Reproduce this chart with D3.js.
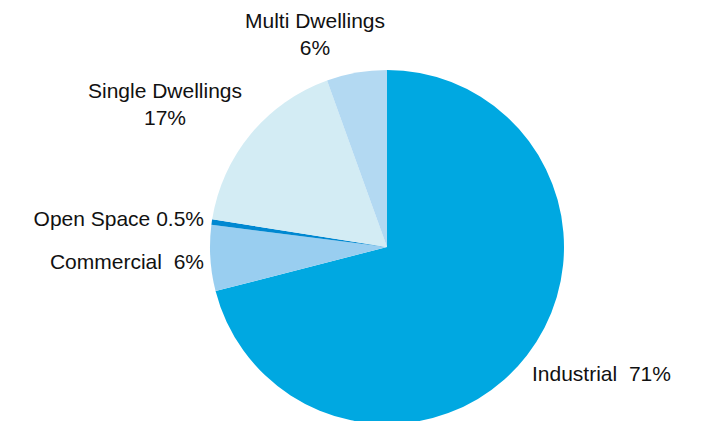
<!DOCTYPE html>
<html>
<head>
<meta charset="utf-8">
<script src="https://cdn.jsdelivr.net/npm/d3@7"></script>
<style>
  body { margin: 0; background: #fff; }
  text { font-family: "Liberation Sans", Arial, sans-serif; fill: #111; }
</style>
</head>
<body>
<svg id="chart"></svg>
<script>
'use strict'

var categories = ["Industrial", "Commercial", "Open Space", "Single Dwellings", "Multi Dwellings"];
var values = [71, 6, 0.5, 17, 5.5];
var valueLabels = ["71%", "6%", "0.5%", "17%", "6%"];
var colors = ["#00a8e1", "#99cef0", "#0088d1", "#d3ecf4", "#b3d9f2"];

var WIDTH = 716,
	HEIGHT = 421;

var cx = 387, cy = 247, radius = 177;

// label placement: [x, y, anchor, twoLines]
var labelPos = [
	[532, 381, "start", false],
	[204, 269, "end", false],
	[204, 226, "end", false],
	[165, 98, "middle", true],
	[315, 28, "middle", true]
];

var svg = d3.select("#chart")
	.attr("width", WIDTH)
	.attr("height", HEIGHT);

var pie = d3.pie().sort(null).value(function (d) { return d; });
var arc = d3.arc().innerRadius(0).outerRadius(radius);

var g = svg.append("g").attr("transform", "translate(" + cx + "," + cy + ")");

g.selectAll("path")
	.data(pie(values))
	.enter().append("path")
	.attr("d", arc)
	.style("fill", function (d, i) { return colors[i]; });

categories.forEach(function (c, i) {
	var p = labelPos[i];
	var t = svg.append("text")
		.attr("x", p[0])
		.attr("y", p[1])
		.style("text-anchor", p[2])
		.style("font-size", "21px");
	if (p[3]) {
		t.append("tspan").attr("x", p[0]).text(c);
		t.append("tspan").attr("x", p[0]).attr("dy", 27).text(valueLabels[i]);
	} else if (i == 2) {
		t.text(c + " " + valueLabels[i]);
	} else {
		t.text(c + "\u00a0\u00a0" + valueLabels[i]);
	}
});
</script>
</body>
</html>
